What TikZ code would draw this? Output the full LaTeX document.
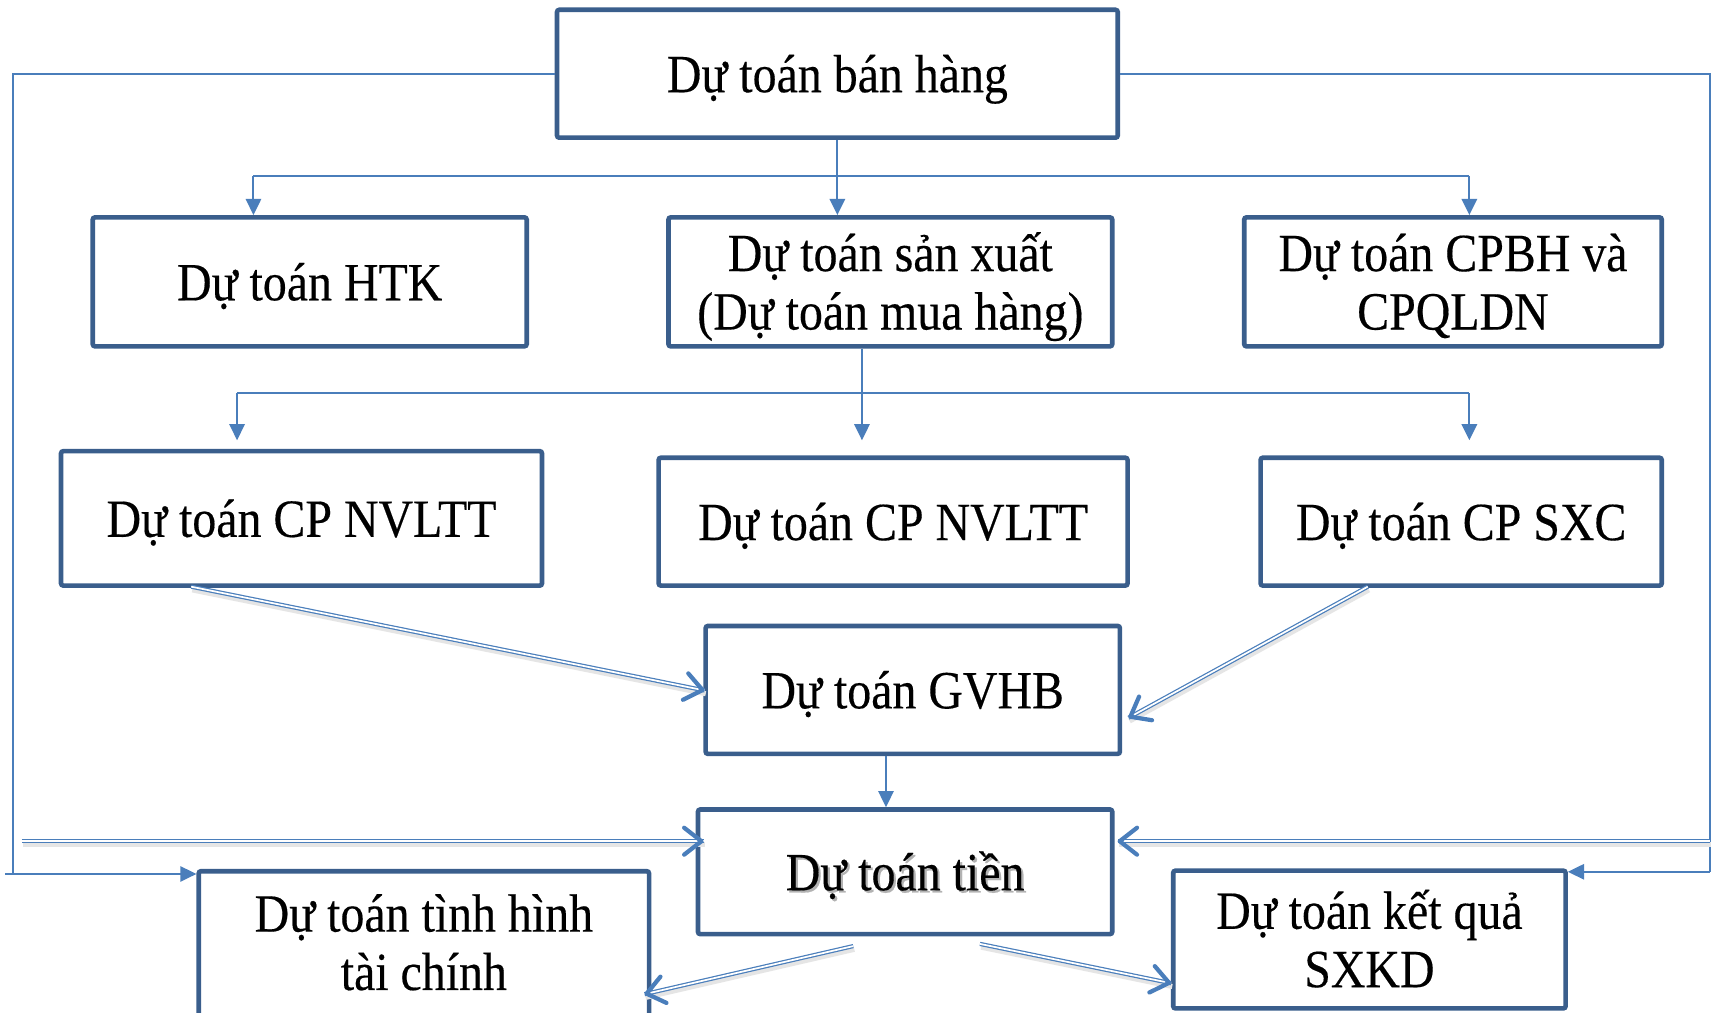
\documentclass[tikz,border=0pt]{standalone}
\usepackage{fontspec}
\setmainfont{Liberation Serif}[FakeStretch=0.89,FakeBold=0.3]
\usetikzlibrary{arrows.meta,calc}
\definecolor{boxc}{HTML}{3A5E8C}
\definecolor{linec}{HTML}{4A7EBB}
\begin{document}
\begin{tikzpicture}[x=0.01cm,y=-0.01cm,
  bx/.style={draw=boxc, line width=1.2pt, rounded corners=0.6pt, inner sep=0pt, align=center, font=\fontsize{14}{15.2}\selectfont},
  one/.style={text height=12pt, text depth=2.4pt},
  two/.style={text height=27.2pt, text depth=2.4pt},
  conn/.style={draw=linec, line width=0.5pt},
  tri/.style={conn, -{Triangle[length=4.2pt,width=4pt]}},
  dbl/.style={draw=linec, line width=0.32pt, double=white, double distance=0.45pt},
  barb/.style={draw=linec, line width=0.3pt, -{Straight Barb[length=4.5pt,width=7pt,line width=1.1pt,round]}},
  shad/.style={draw=black!10, line width=1.3pt},
  txtshad/.style={text=black!30, inner sep=0pt, font=\fontsize{14}{15.2}\selectfont, one}
]
\clip (0,0) rectangle (1568,927);
\fill[white] (0,0) rectangle (1568,927);

% boxes
\node[bx, one, minimum width=5.13cm, minimum height=1.17cm] (top) at (766.5,67.5) {Dự toán bán hàng};
\node[bx, one, minimum width=3.97cm, minimum height=1.18cm] (htk) at (283.5,258) {Dự toán HTK};
\node[bx, two, minimum width=4.06cm, minimum height=1.18cm] (sx) at (815,258) {Dự toán sản xuất\\(Dự toán mua hàng)};
\node[bx, two, minimum width=3.82cm, minimum height=1.18cm] (cpbh) at (1330,258) {Dự toán CPBH và\\CPQLDN};
\node[bx, one, minimum width=4.40cm, minimum height=1.23cm] (nvl1) at (276,474.5) {Dự toán CP NVLTT};
\node[bx, one, minimum width=4.29cm, minimum height=1.17cm] (nvl2) at (817.5,477.5) {Dự toán CP NVLTT};
\node[bx, one, minimum width=3.67cm, minimum height=1.17cm] (sxc) at (1337.5,477.5) {Dự toán CP SXC};
\node[bx, one, minimum width=3.79cm, minimum height=1.17cm] (gvhb) at (835.5,631.5) {Dự toán GVHB};
\node[txtshad] (tienshad) at (830.5,800) {Dự toán tiền};
\node[bx, one, minimum width=3.79cm, minimum height=1.14cm] (tien) at (828.5,798) {Dự toán tiền};
\node[bx, two, text depth=5.2pt, minimum width=4.12cm, minimum height=1.40cm] (tc) at (388,867.5) {Dự toán tình hình\\tài chính};
\node[bx, two, minimum width=3.59cm, minimum height=1.26cm] (kq) at (1253.5,860) {Dự toán kết quả\\SXKD};

% bus from top box
\coordinate (bL) at (232,161);
\coordinate (bR) at (1345,161);
\draw[tri] (top.south) -- (top.south |- sx.north);
\draw[conn] (bL) -- (bR);
\draw[tri] (bL) -- (bL |- htk.north);
\draw[tri] (bR) -- (bR |- cpbh.north);

% bus from production box
\coordinate (cL) at (217,360);
\coordinate (cM) at (789,360);
\coordinate (cR) at (1345,360);
\draw[conn] (cL) -- (cR);
\draw[tri] (cM |- sx.south) -- ($(cM)+(0,43)$);
\draw[tri] (cL) -- ($(cL)+(0,43)$);
\draw[tri] (cR) -- ($(cR)+(0,43)$);

% outer loops
\coordinate (lc) at (12,800);
\coordinate (ls) at (5,800);
\draw[conn] (top.west) -| (lc);
\draw[tri] (ls) -- (ls -| tc.west);
\coordinate (rc) at (1565,798);
\draw[conn] (top.east) -| (rc);
\draw[tri] (rc) -- (rc -| kq.east);

% gvhb to tien
\coordinate (g1) at (811,0);
\draw[tri] (g1 |- gvhb.south) -- (g1 |- tien.north);

% double arrows
\coordinate (dl) at (20,770);
\coordinate (dr) at (1565,770);
\coordinate (dlE) at (644,770);
\coordinate (drE) at (1023,770);
\coordinate (a1) at (175,537);
\coordinate (a1E) at (645,632);
\coordinate (a2) at (1252,537);
\coordinate (a2E) at (1033,657);
\coordinate (t1) at (781,866);
\coordinate (t1E) at (590,910);
\coordinate (t2) at (897,864);
\coordinate (t2E) at (1072,900);

\foreach \s/\e in {dl/dlE, dr/drE, a1/a1E, a2/a2E, t1/t1E, t2/t2E}{
  \draw[shad] ($(\s)+(1,3)$) -- ($(\e)+(1,3)$);
}
\foreach \s/\e in {dl/dlE, dr/drE, a1/a1E, a2/a2E, t1/t1E, t2/t2E}{
  \draw[dbl] (\s) -- (\e);
  \draw[barb] ($(\e)!0.2pt!(\s)$) -- (\e);
}
\end{tikzpicture}
\end{document}
